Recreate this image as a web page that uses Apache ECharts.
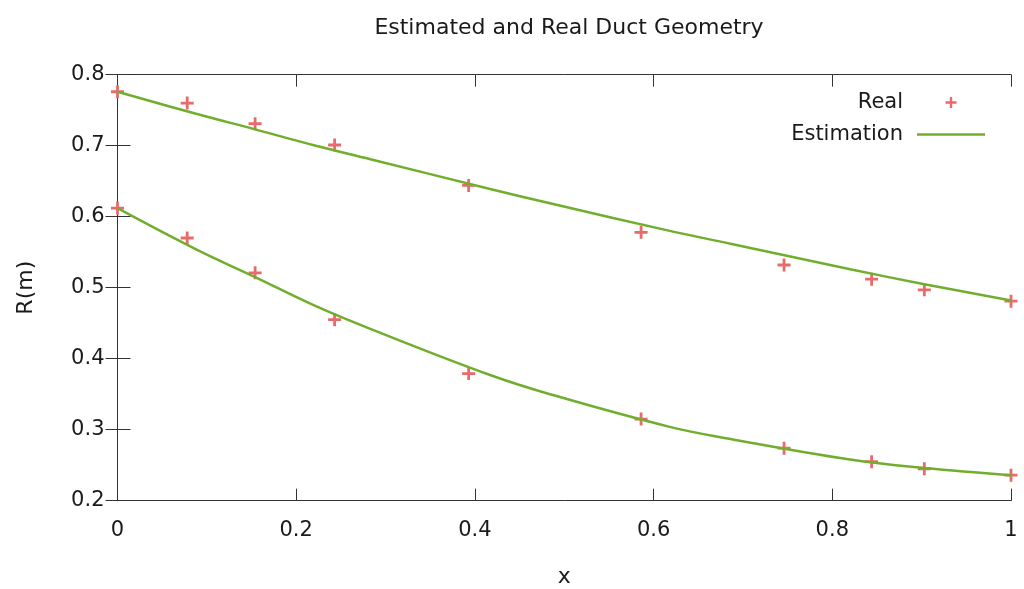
<!DOCTYPE html>
<html>
<head>
<meta charset="utf-8">
<script src="https://cdn.jsdelivr.net/npm/echarts@6/dist/echarts.min.js"></script>
<style>
html,body{margin:0;padding:0;background:#fff;}
#chart{width:1024px;height:589px;}
</style>
</head>
<body>
<div id="chart"></div>
<script>
// ---- data ----
const titleText = 'Estimated and Real Duct Geometry';
const xName = 'x';
const yName = 'R(m)';
const xTickLabels = ['0', '0.2', '0.4', '0.6', '0.8', '1'];
const yTickLabels = ['0.2', '0.3', '0.4', '0.5', '0.6', '0.7', '0.8'];

const realX     = [0, 0.078, 0.154, 0.243, 0.393, 0.586, 0.746, 0.844, 0.903, 1.0];
const realUpper = [0.776, 0.760, 0.731, 0.701, 0.644, 0.578, 0.532, 0.512, 0.497, 0.481];
const realLower = [0.612, 0.570, 0.521, 0.455, 0.379, 0.315, 0.274, 0.255, 0.245, 0.236];

const estX     = [0, 0.088, 0.154, 0.222, 0.283, 0.417, 0.484, 0.618, 0.686, 0.820, 0.903, 1.0];
const estUpper = [0.776, 0.745, 0.723, 0.700, 0.681, 0.639, 0.619, 0.580, 0.562, 0.526, 0.505, 0.482];
const estLower = [0.612, 0.554, 0.515, 0.474, 0.442, 0.377, 0.350, 0.304, 0.287, 0.258, 0.246, 0.236];

// ---- build ----
const pair = (xs, ys) => xs.map((x, i) => [x, ys[i]]);
const realData = pair(realX, realUpper).concat(pair(realX, realLower));

const FONT = 'DejaVu Sans';
const TXT = '#1a1a1a';
const AX = '#333333';
const RED = '#e86a6a';
const GREEN = '#72ae2e';
const plusPath = 'path://M4,0h2.2v4h4v2.2h-4v4h-2.2v-4h-4v-2.2h4z';
const linePath = 'path://M0,0h68v2.5h-68z';

const xFmt = v => { const i = Math.round(v / 0.2); return xTickLabels[i] !== undefined ? xTickLabels[i] : ''; };
const yFmt = v => { const i = Math.round((v - 0.2) / 0.1); return yTickLabels[i] !== undefined ? yTickLabels[i] : ''; };

const chart = echarts.init(document.getElementById('chart'), null, {renderer: 'canvas'});
chart.setOption({
  animation: false,
  backgroundColor: '#ffffff',
  title: {
    text: titleText, left: 564, top: 12, textAlign: 'center',
    textStyle: {fontFamily: FONT, fontSize: 22, fontWeight: 'normal', color: TXT}
  },
  legend: {
    data: [{name: 'Real', icon: plusPath}, {name: 'Estimation', icon: linePath}],
    orient: 'vertical', align: 'right',
    right: 39, top: 92, padding: 0,
    itemWidth: 68, itemHeight: 11, itemGap: 11,
    textStyle: {fontFamily: FONT, fontSize: 21, color: TXT, padding: [0, 9, 0, 0]}
  },
  grid: {left: 117.5, right: 13, top: 74.7, bottom: 88.3, containLabel: false, outerBoundsMode: 'none'},
  xAxis: [{
    type: 'value', min: 0, max: 1, interval: 0.2, position: 'bottom',
    name: xName, nameLocation: 'middle', nameGap: 66,
    nameTextStyle: {fontFamily: FONT, fontSize: 22, color: TXT},
    axisLine: {show: true, lineStyle: {color: AX, width: 1}},
    axisTick: {show: true, inside: true, length: 12, lineStyle: {color: AX}},
    axisLabel: {formatter: xFmt, fontFamily: FONT, fontSize: 21, color: TXT, margin: 19},
    splitLine: {show: false}
  }, {
    type: 'value', min: 0, max: 1, interval: 0.2, position: 'top',
    axisLine: {show: true, lineStyle: {color: AX, width: 1}},
    axisTick: {show: true, inside: true, length: 12, lineStyle: {color: AX}},
    axisLabel: {show: false}, splitLine: {show: false}
  }],
  yAxis: [{
    type: 'value', min: 0.2, max: 0.8, interval: 0.1, position: 'left',
    name: yName, nameLocation: 'middle', nameGap: 80, nameRotate: 90,
    nameTextStyle: {fontFamily: FONT, fontSize: 22, color: TXT},
    axisLine: {show: true, lineStyle: {color: AX, width: 1}},
    axisTick: {show: true, inside: true, length: 13, lineStyle: {color: AX}},
    axisLabel: {formatter: yFmt, fontFamily: FONT, fontSize: 21, color: TXT, margin: 13},
    splitLine: {show: false}
  }, {
    type: 'value', min: 0.2, max: 0.8, interval: 0.1, position: 'right',
    axisLine: {show: true, lineStyle: {color: AX, width: 1}},
    axisTick: {show: true, inside: true, length: 12, lineStyle: {color: AX}},
    axisLabel: {show: false}, splitLine: {show: false}
  }],
  series: [{
    name: 'Real', type: 'scatter', xAxisIndex: 0, yAxisIndex: 0,
    data: realData, symbol: plusPath, symbolSize: 13, z: 1,
    itemStyle: {color: RED, opacity: 1}
  }, {
    name: 'Estimation', type: 'line', xAxisIndex: 0, yAxisIndex: 0,
    data: pair(estX, estUpper), smooth: 0.4, symbol: 'none', z: 2,
    lineStyle: {color: GREEN, width: 2.5}, itemStyle: {color: GREEN}
  }, {
    name: 'Estimation', type: 'line', xAxisIndex: 0, yAxisIndex: 0,
    data: pair(estX, estLower), smooth: 0.4, symbol: 'none', z: 2,
    lineStyle: {color: GREEN, width: 2.5}, itemStyle: {color: GREEN}
  }]
});
</script>
</body>
</html>
